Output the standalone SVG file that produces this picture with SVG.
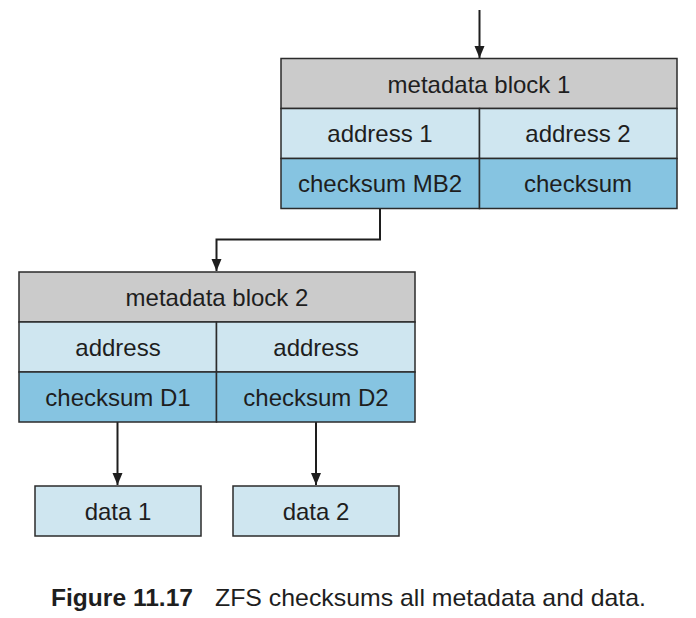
<svg xmlns="http://www.w3.org/2000/svg" width="696" height="618" viewBox="0 0 696 618">
<style>
.cell{stroke:#2b2b2b;stroke-width:1.5}
.hd{fill:#cbcbcb}
.lt{fill:#cfe6f0}
.dk{fill:#86c4e1}
.t{font-family:"Liberation Sans",Arial,sans-serif;font-size:24px;fill:#1e1e1e;text-anchor:middle}
.cap{font-family:"Liberation Sans",Arial,sans-serif;font-size:24px;fill:#1e1e1e}
.con{fill:none;stroke:#1e1e1e;stroke-width:2;marker-end:url(#ah)}
</style>
<defs>
<marker id="ah" markerWidth="12" markerHeight="12" refX="12" refY="5" orient="auto" markerUnits="userSpaceOnUse">
<path d="M0,0 L12,5 L0,10 Z" fill="#1e1e1e"/>
</marker>
</defs>
<rect width="696" height="618" fill="#ffffff"/>
<g id="connectors">
<path class="con" d="M479.5,10 V58"/>
<path class="con" d="M380,208 V239.5 H216.5 V271"/>
<path class="con" d="M117.5,422 V485"/>
<path class="con" d="M316,422 V485"/>
</g>
<g id="metadata-block-1">
<rect class="cell hd" x="281" y="58.5" width="396" height="50"/>
<rect class="cell lt" x="281" y="108.5" width="198.5" height="50"/>
<rect class="cell lt" x="479.5" y="108.5" width="197.5" height="50"/>
<rect class="cell dk" x="281" y="158.5" width="198.5" height="50"/>
<rect class="cell dk" x="479.5" y="158.5" width="197.5" height="50"/>
<text class="t" x="479" y="93">metadata block 1</text>
<text class="t" x="380" y="142">address 1</text>
<text class="t" x="578" y="142">address 2</text>
<text class="t" x="380" y="192">checksum MB2</text>
<text class="t" x="578" y="192">checksum</text>
</g>
<g id="metadata-block-2">
<rect class="cell hd" x="19" y="272" width="396" height="50"/>
<rect class="cell lt" x="19" y="322" width="197.5" height="50"/>
<rect class="cell lt" x="216.5" y="322" width="198.5" height="50"/>
<rect class="cell dk" x="19" y="372" width="197.5" height="50"/>
<rect class="cell dk" x="216.5" y="372" width="198.5" height="50"/>
<text class="t" x="217" y="306">metadata block 2</text>
<text class="t" x="118" y="356">address</text>
<text class="t" x="316" y="356">address</text>
<text class="t" x="118" y="406">checksum D1</text>
<text class="t" x="316" y="406">checksum D2</text>
</g>
<g id="data-1">
<rect class="cell lt" x="35" y="486" width="166" height="50"/>
<text class="t" x="118" y="520">data 1</text>
</g>
<g id="data-2">
<rect class="cell lt" x="233" y="486" width="166" height="50"/>
<text class="t" x="316" y="520">data 2</text>
</g>
<g id="caption">
<text class="cap" x="51" y="606" font-weight="bold" textLength="142" lengthAdjust="spacingAndGlyphs">Figure 11.17</text>
<text class="cap" x="215" y="606" textLength="431" lengthAdjust="spacingAndGlyphs">ZFS checksums all metadata and data.</text>
</g>
</svg>
